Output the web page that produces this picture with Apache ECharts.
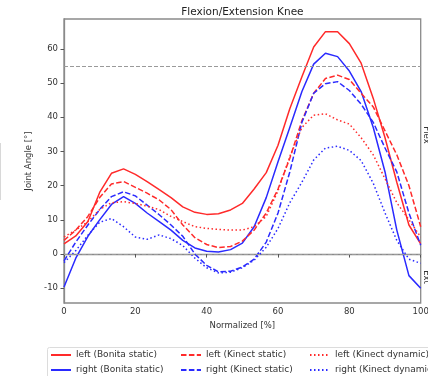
<!DOCTYPE html>
<html>
<head>
<meta charset="utf-8">
<script src="https://cdn.jsdelivr.net/npm/echarts@6/dist/echarts.min.js"></script>
<style>html,body{margin:0;padding:0;background:#fff;}#c{width:428px;height:376px;}</style>
</head>
<body>
<div id="c"></div>
<script>
const xs = [0,3.3,6.7,10,13.3,16.7,20,23.3,26.7,30,33.3,36.7,40,43.3,46.7,50,53.3,56.7,60,63.3,66.7,70,73.3,76.7,80,83.3,86.7,90,93.3,96.7,100];
const leftBonita = [3,5.3,9.5,18,23.6,24.9,23.3,21.2,18.8,16.5,13.8,12.2,11.6,11.8,12.9,14.8,19,23.8,31.8,42.5,51.8,60.5,65,65,61.5,55.8,45.5,34,21,8.5,3];
const rightBonita = [-9.6,-1.2,5.2,10,14.5,16.8,14.8,12,9.5,7,4,1.8,0.8,0.6,1.3,3.2,8,16.5,27,37,47.5,55.5,58.7,57.7,53.5,47.5,37,24,7,-6.3,-10];
const leftKinectStatic = [4,7,11,16.5,20.5,21.2,19.5,17.8,15.8,13,8.5,4.8,2.8,1.9,2.2,3.8,7,12,19,28,39,47,51.3,52.3,51,47,43,36,29,20,8];
const rightKinectStatic = [-2,3.5,8.5,13,16.8,18.2,17,14.3,11.5,8.5,5.2,0,-3.3,-5.2,-5,-3.8,-1.5,3.5,12,24,38.5,47,49.8,50.4,47.8,43.8,38.5,31,24,12,2.6];
const leftKinectDynamic = [5,7,9.5,13,15,15.3,14.8,14,13,11,9.5,8,7.5,7.2,7,7,8,11,18.5,28.5,37,40.6,41,39.2,38,34,29,22,15,10,5];
const rightKinectDynamic = [-2.5,1,5.5,9.3,10.4,8,5,4.3,5.6,4.5,2.5,-1.2,-4,-5.5,-5.3,-4,-1.8,2,7.5,15,21,27.5,31,31.5,30.3,27.3,20.7,12,4,-1.5,-2.7];
const seriesNames = ['left (Bonita static)','right (Bonita static)','left (Kinect static)','right (Kinect static)','left (Kinect dynamic)','right (Kinect dynamic)'];
const xTicks = [0,20,40,60,80,100];
const yTicks = [-10,0,10,20,30,40,50,60];
const refLines = [55,0];
const titleText = 'Flexion/Extension Knee';
const xName = 'Normalized [%]';
const yName = 'Joint Angle [°]';

const RED = '#ff2a2a', BLUE = '#2a2aff';
const SOLID = 'solid', DASHED = [5.5,2.4], DOTTED = [1.5,2.5];
const FONT = 'DejaVu Sans';

function mk(name, vals, color, dash, extra) {
  const s = {
    name: name, type: 'line', data: xs.map((x,i)=>[x, vals[i]]),
    showSymbol: false, symbol: 'none', smooth: false, animation: false,
    lineStyle: {color: color, width: 1.5, type: dash},
    itemStyle: {color: color},
    emphasis: {disabled: true}
  };
  return Object.assign(s, extra || {});
}

const chart = echarts.init(document.getElementById('c'), null, {renderer: 'canvas'});
const legendBase = {
  orient: 'vertical', top: 350, itemWidth: 20, itemHeight: 10, itemGap: 5,
  textStyle: {fontFamily: FONT, fontSize: 9, color: '#333', lineHeight: 10},
  itemStyle: {opacity: 0, borderWidth: 0},
  padding: 0, selectedMode: false
};
chart.setOption({
  animation: false,
  backgroundColor: '#fff',
  grid: {left: 64, right: 7.3, top: 19, bottom: 73, show: true, borderColor: '#8a8a8a', borderWidth: 1.3, outerBoundsMode: 'none', containLabel: false},
  xAxis: {
    type: 'value', min: 0, max: 100,
    name: xName, nameLocation: 'middle', nameGap: 17,
    nameTextStyle: {fontFamily: FONT, fontSize: 8.5, color: '#333'},
    axisLine: {show: true, lineStyle: {color: '#8a8a8a', width: 1.3}},
    axisTick: {show: true, inside: false, length: 3.5, lineStyle: {color: '#555'}, customValues: xTicks},
    axisLabel: {fontFamily: FONT, fontSize: 8.5, color: '#333', margin: 4, customValues: xTicks},
    splitLine: {show: false}
  },
  yAxis: {
    type: 'value', min: -14.3, max: 68.7,
    name: yName, nameLocation: 'middle', nameGap: 28,
    nameTextStyle: {fontFamily: FONT, fontSize: 8.5, color: '#333'},
    axisLine: {show: true, lineStyle: {color: '#8a8a8a', width: 1.3}},
    axisTick: {show: true, inside: false, length: 3.5, lineStyle: {color: '#555'}, customValues: yTicks},
    axisLabel: {fontFamily: FONT, fontSize: 8.5, color: '#333', margin: 6, customValues: yTicks},
    splitLine: {show: false}
  },
  legend: [
    Object.assign({}, legendBase, {left: 50, data: [seriesNames[0], seriesNames[1]]}),
    Object.assign({}, legendBase, {left: 180, data: [seriesNames[2], seriesNames[3]]}),
    Object.assign({}, legendBase, {left: 309, data: [seriesNames[4], seriesNames[5]]})
  ],
  graphic: [
    {type: 'text', x: 242.4, y: 12.5, style: {text: titleText, fontFamily: FONT, fontSize: 10.5, fill: '#222', align: 'center', verticalAlign: 'middle'}},
    {type: 'text', x: 426, y: 135, rotation: -Math.PI/2, style: {text: 'Flex', fontFamily: FONT, fontSize: 8.5, fill: '#333', align: 'center', verticalAlign: 'middle'}},
    {type: 'text', x: 426, y: 277, rotation: -Math.PI/2, style: {text: 'Ext', fontFamily: FONT, fontSize: 8.5, fill: '#333', align: 'center', verticalAlign: 'middle'}},
    {type: 'text', x: -6, y: 368, style: {text: 'r', fontFamily: 'Liberation Sans', fontSize: 62, fill: '#000', align: 'left', verticalAlign: 'alphabetic'}},
    {type: 'rect', shape: {x: 47.5, y: 347.5, width: 400, height: 40, r: 2}, style: {fill: 'none', stroke: '#dcdcdc', lineWidth: 1}},
    {type: 'line', shape: {x1: 0.5, y1: 143, x2: 0.5, y2: 200}, style: {stroke: '#d8d8d8', lineWidth: 1}}
  ],
  series: [
    mk(seriesNames[0], leftBonita, RED, SOLID, {
      markLine: {silent: true, symbol: 'none', animation: false, label: {show: false},
        lineStyle: {color: '#9a9a9a', width: 1, type: [4,2]},
        data: refLines.map(v => ({yAxis: v}))}
    }),
    mk(seriesNames[1], rightBonita, BLUE, SOLID),
    mk(seriesNames[2], leftKinectStatic, RED, DASHED),
    mk(seriesNames[3], rightKinectStatic, BLUE, DASHED),
    mk(seriesNames[4], leftKinectDynamic, RED, DOTTED),
    mk(seriesNames[5], rightKinectDynamic, BLUE, DOTTED)
  ]
});
</script>
</body>
</html>
